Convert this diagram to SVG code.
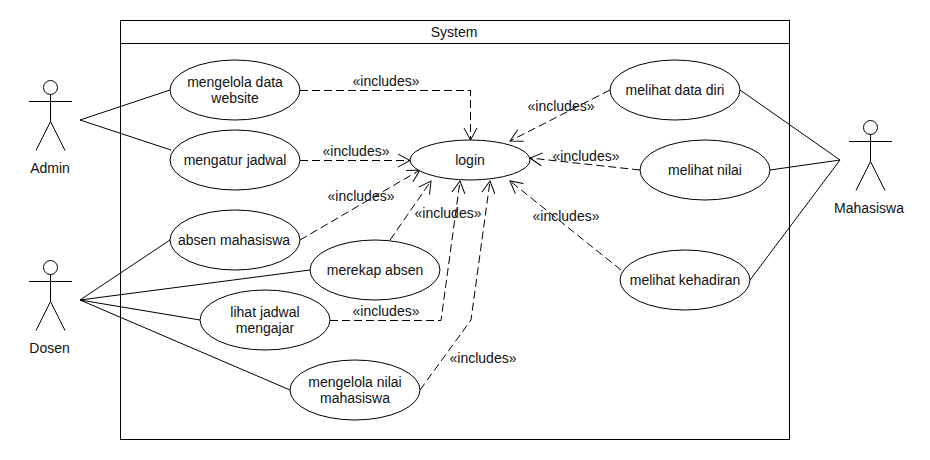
<svg xmlns="http://www.w3.org/2000/svg" width="930" height="460" viewBox="0 0 930 460">
<style>
text{font-family:"Liberation Sans",Arial,sans-serif;font-size:14px;fill:#111;text-anchor:middle}
.s{fill:none;stroke:#000;stroke-width:1}
.u{fill:#fff;stroke:#000;stroke-width:1}
.d{fill:none;stroke:#000;stroke-width:1;stroke-dasharray:8 4;marker-end:url(#open)}
</style>
<defs>
<marker id="open" markerUnits="userSpaceOnUse" markerWidth="16" markerHeight="16" refX="14" refY="8" orient="auto">
<path d="M2 1.5L14 8L2 14.5" fill="none" stroke="#000" stroke-width="1"/>
</marker>
<g id="stick"><circle cx="0" cy="7" r="7" class="s"/><path class="s" d="M0 14V41M-21.5 21H21.5M0 41L-14.500 70M0 41L14.500 70"/></g>
</defs>
<rect width="930" height="460" fill="#fff"/>
<g id="system">
<rect x="120.500" y="20.500" width="669" height="419" class="u"/>
<path class="s" d="M120.500 43.500H789.500"/>
<text x="454" y="37">System</text>
</g>
<g id="connectors">
<path class="s" d="M80 120L170 90M80 120L171 150M80 300L170 240M80 300L310 270M80 300L200 320M80 300L290 390M840 160L740 90M840 160L770 170M840 160L750 280"/>
<path class="d" d="M300 90.500H470.500V140"/>
<path class="d" d="M300 160.500H410"/>
<path class="d" d="M300 240L420 170"/>
<path class="d" d="M390 240L431 181"/>
<path class="d" d="M330 320.500H441L460 181"/>
<path class="d" d="M420 390L471 320L490 181"/>
<path class="d" d="M610 90L510 141"/>
<path class="d" d="M640 170L530 158"/>
<path class="d" d="M621 270L510 181"/>
</g>
<g id="labels">
<text x="386" y="86">«includes»</text>
<text x="356" y="156">«includes»</text>
<text x="361" y="201">«includes»</text>
<text x="448" y="218">«includes»</text>
<text x="386" y="316">«includes»</text>
<text x="483" y="363">«includes»</text>
<text x="561" y="111">«includes»</text>
<text x="586" y="161">«includes»</text>
<text x="566" y="221">«includes»</text>
</g>
<g id="admin"><use href="#stick" x="50.500" y="80.500"/><text x="50" y="173">Admin</text></g>
<g id="dosen"><use href="#stick" x="50.500" y="260.500"/><text x="49.500" y="353">Dosen</text></g>
<g id="mahasiswa"><use href="#stick" x="870.500" y="120.500"/><text x="869" y="213">Mahasiswa</text></g>
<g id="uc-mengelola-data"><ellipse cx="235" cy="90" rx="65" ry="30" class="u"/><text x="235" y="87">mengelola data</text><text x="235" y="103">website</text></g>
<g id="uc-mengatur"><ellipse cx="235" cy="160" rx="65" ry="30" class="u"/><text x="235" y="165">mengatur jadwal</text></g>
<g id="uc-absen"><ellipse cx="235" cy="240" rx="65" ry="30" class="u"/><text x="234" y="245">absen mahasiswa</text></g>
<g id="uc-merekap"><ellipse cx="375" cy="270" rx="65" ry="30" class="u"/><text x="375" y="275">merekap absen</text></g>
<g id="uc-lihat"><ellipse cx="265" cy="320" rx="65" ry="30" class="u"/><text x="265" y="317">lihat jadwal</text><text x="265" y="333">mengajar</text></g>
<g id="uc-nilai"><ellipse cx="355" cy="390" rx="65" ry="30" class="u"/><text x="355" y="387">mengelola nilai</text><text x="355" y="403">mahasiswa</text></g>
<g id="uc-login"><ellipse cx="470" cy="160" rx="60" ry="20" class="u"/><text x="470" y="165">login</text></g>
<g id="uc-data-diri"><ellipse cx="675" cy="90" rx="65" ry="30" class="u"/><text x="675" y="95">melihat data diri</text></g>
<g id="uc-melihat-nilai"><ellipse cx="705" cy="170" rx="65" ry="30" class="u"/><text x="705" y="175">melihat nilai</text></g>
<g id="uc-kehadiran"><ellipse cx="685" cy="280" rx="65" ry="30" class="u"/><text x="685" y="285">melihat kehadiran</text></g>
</svg>
